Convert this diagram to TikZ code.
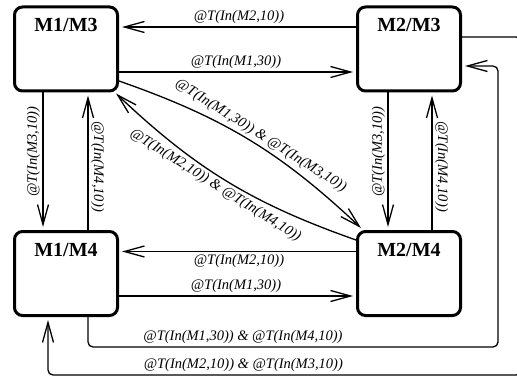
\documentclass[tikz,border=0pt]{standalone}
\usepackage{fontspec}
\setmainfont{Liberation Serif}
\usetikzlibrary{arrows.meta,calc}
\begin{document}
\begin{tikzpicture}[x=1pt,y=-1pt,
  state/.style={draw, line width=3pt, rounded corners=8pt, minimum width=103pt, minimum height=84pt, inner sep=0pt},
  ttl/.style={font=\bfseries\fontsize{20}{24}\selectfont, inner sep=0pt},
  lbl/.style={font=\itshape\fontsize{14.5}{16}\selectfont, inner sep=2.3pt},
  conn/.style={line width=1.3pt, -{Straight Barb[length=20pt,width=11pt,line width=1.3pt]}},
  loopc/.style={conn, rounded corners=5pt}]
\clip (0,0) rectangle (517,377);
% states
\node[state] (A) at (66,49) {};
\node[state] (B) at (409,49) {};
\node[state] (C) at (66,273.5) {};
\node[state] (D) at (409,273.5) {};
\node[ttl] (tA) at (66,25) {M1/M3};
\node[ttl] (tB) at (409,25) {M2/M3};
\node[ttl] (tC) at (66,250) {M1/M4};
\node[ttl] (tD) at (409,250) {M2/M4};
% top row
\draw[conn] ($(B.west)+(0,-22)$) -- node[lbl,above] (l1) {@T(In(M2,10))} ($(A.east)+(3,-22)$);
\draw[conn] ($(A.east)+(0,23)$) -- node[lbl,above] (l2) {@T(In(M1,30))} ($(B.west)+(-3,23)$);
% left column
\draw[conn] ($(A.south)+(-23,0)$) -- node[lbl,rotate=90,anchor=south,pos=0.44] (l3) {@T(In(M3,10))} ($(C.north)+(-23,-3)$);
\draw[conn] ($(C.north)+(22,0)$) -- node[lbl,rotate=-90,anchor=south,pos=0.47] (l4) {@T(In(M4,10))} ($(A.south)+(22,3)$);
% right column
\draw[conn] ($(B.south)+(-21,0)$) -- node[lbl,rotate=90,anchor=south,pos=0.44] (l5) {@T(In(M3,10))} ($(D.north)+(-21,-3)$);
\draw[conn] ($(D.north)+(23,0)$) -- node[lbl,rotate=-90,anchor=south,pos=0.47] (l6) {@T(In(M4,10))} ($(B.south)+(23,3)$);
% bottom row
\draw[conn] ($(D.west)+(0,-22)$) -- node[lbl,below] (l7) {@T(In(M2,10))} ($(C.east)+(3,-22)$);
\draw[conn] ($(C.east)+(0,22.5)$) -- node[lbl,above] (l8) {@T(In(M1,30))} ($(D.west)+(-3,22.5)$);
% diagonals
\draw[conn] ($(A.east)+(0,32)$) to[bend left=12] node[lbl,above,sloped,pos=0.53] (l9) {@T(In(M1,30)) \& @T(In(M3,10))} ($(D.north west)+(5,-2)$);
\draw[conn] ($(D.west)+(0,-33.5)$) to[bend left=12] node[lbl,below,sloped,pos=0.53] (l10) {@T(In(M2,10)) \& @T(In(M4,10))} ($(A.south east)+(-3,1)$);
% loops
\coordinate (p1) at (88,347);
\coordinate (p2) at (498,347);
\coordinate (p3) at (498,66);
\draw[loopc] ($(C.south)+(22,0)$) -- (p1) -- node[lbl,above,pos=0.378] (l11) {@T(In(M1,30)) \& @T(In(M4,10))} (p2) -- (p3) -- ($(B.east)+(3,17)$);
\coordinate (q1) at (521,37);
\coordinate (q2) at (521,375);
\coordinate (q3) at (48,375);
\draw[loopc] ($(B.east)+(0,-12)$) -- (q1) -- (q2) -- node[lbl,above,pos=0.587] (l12) {@T(In(M2,10)) \& @T(In(M3,10))} (q3) -- ($(C.south)+(-18,3)$);
\end{tikzpicture}
\end{document}
